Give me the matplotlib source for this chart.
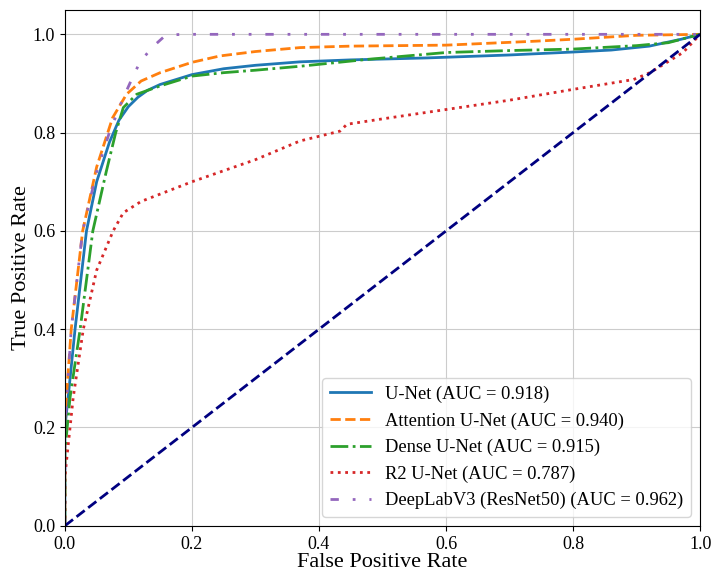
import matplotlib
matplotlib.use('Agg')
import matplotlib.pyplot as plt

plt.rcParams['font.family'] = ['Liberation Serif', 'DejaVu Serif']

# ROC points
unet_fpr = [0, 0, 0.005, 0.016, 0.034, 0.05, 0.07, 0.085, 0.1, 0.115, 0.13, 0.15, 0.2, 0.25, 0.3, 0.37, 0.45, 0.57, 0.7, 0.8, 0.86, 0.92, 0.97, 1]
unet_tpr = [0, 0.2, 0.26, 0.40, 0.60, 0.70, 0.78, 0.825, 0.853, 0.872, 0.886, 0.898, 0.918, 0.93, 0.937, 0.944, 0.948, 0.952, 0.958, 0.964, 0.968, 0.976, 0.99, 1]

att_fpr = [0, 0, 0.01, 0.028, 0.05, 0.075, 0.097, 0.12, 0.15, 0.2, 0.244, 0.3, 0.37, 0.45, 0.6, 0.74, 0.8, 0.9, 1]
att_tpr = [0, 0.22, 0.40, 0.60, 0.73, 0.83, 0.878, 0.905, 0.922, 0.943, 0.956, 0.965, 0.973, 0.976, 0.978, 0.986, 0.99, 0.998, 1]

dense_fpr = [0, 0, 0.008, 0.024, 0.044, 0.065, 0.08, 0.092, 0.113, 0.15, 0.2, 0.25, 0.3, 0.37, 0.476, 0.6, 0.7, 0.8, 0.9, 0.95, 1]
dense_tpr = [0, 0.15, 0.26, 0.40, 0.60, 0.72, 0.80, 0.851, 0.878, 0.895, 0.915, 0.922, 0.927, 0.935, 0.949, 0.963, 0.967, 0.970, 0.977, 0.983, 1]

r2_fpr = [0, 0, 0.013, 0.029, 0.05, 0.076, 0.092, 0.12, 0.15, 0.2, 0.3, 0.37, 0.433, 0.444, 0.5, 0.6, 0.7, 0.8, 0.895, 0.921, 0.973, 1]
r2_tpr = [0, 0.1, 0.26, 0.40, 0.52, 0.60, 0.637, 0.66, 0.675, 0.70, 0.745, 0.783, 0.803, 0.817, 0.828, 0.847, 0.866, 0.888, 0.908, 0.922, 0.963, 1]

dl_fpr = [0, 0, 0.01, 0.028, 0.05, 0.07, 0.09, 0.105, 0.118, 0.137, 0.155, 0.17, 0.186, 1]
dl_tpr = [0, 0.2, 0.40, 0.60, 0.72, 0.80, 0.865, 0.908, 0.943, 0.973, 0.994, 0.999, 1.0, 1]

fig = plt.figure(figsize=(7.13, 5.74), dpi=100)
ax = fig.add_axes([0.091, 0.084, 0.891, 0.899])

ax.plot(unet_fpr, unet_tpr, color='#1f77b4', lw=2, label='U-Net (AUC = 0.918)')
ax.plot(att_fpr, att_tpr, color='#ff7f0e', lw=2, ls='--', label='Attention U-Net (AUC = 0.940)')
ax.plot(dense_fpr, dense_tpr, color='#2ca02c', lw=2, ls='-.', label='Dense U-Net (AUC = 0.915)')
ax.plot(r2_fpr, r2_tpr, color='#d62728', lw=2, ls=':', label='R2 U-Net (AUC = 0.787)')
ax.plot(dl_fpr, dl_tpr, color='#9467bd', lw=2, ls=(0, (3, 5, 1, 5, 1, 5)),
        label='DeepLabV3 (ResNet50) (AUC = 0.962)')
ax.plot([0, 1], [0, 1], color='navy', lw=2, ls='--')

ax.set_xlim(0, 1)
ax.set_ylim(0, 1.05)
ax.set_xlabel('False Positive Rate', fontsize=16, labelpad=0)
ax.set_ylabel('True Positive Rate', fontsize=16, labelpad=1)
ax.tick_params(labelsize=13)
ax.grid(True, color='#cccccc')
ax.legend(loc='lower right', fontsize=13.3, handlelength=2.2)

fig.savefig('out.png', dpi=100)
